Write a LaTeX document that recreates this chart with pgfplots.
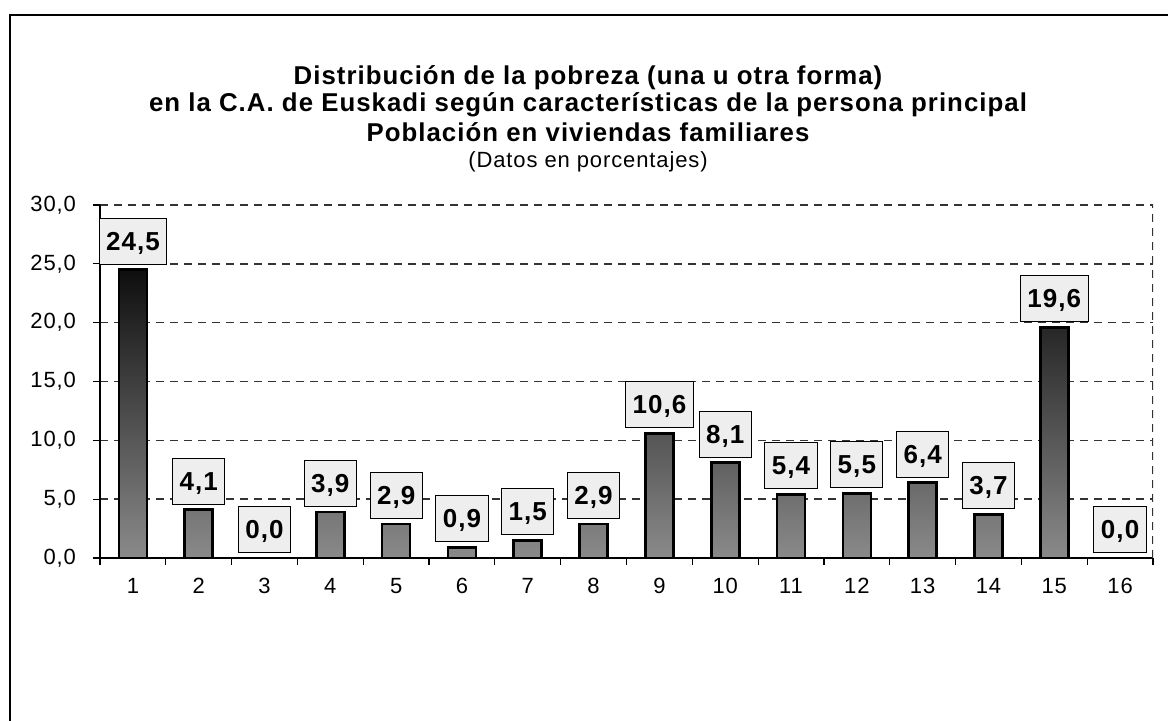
\documentclass[border=0pt]{standalone}
\usepackage{fontspec}
\setmainfont{Liberation Sans}[LetterSpace=4]
\usepackage{pgfplots}
\pgfplotsset{compat=1.18}
\definecolor{bartop}{HTML}{0E0E0E}
\definecolor{barbot}{HTML}{8A8A8A}
\definecolor{boxfill}{HTML}{EEEEEE}
\definecolor{gridc}{HTML}{333333}
\begin{document}
\begin{tikzpicture}[x=1pt,y=1pt]
\useasboundingbox (0,0) rectangle (584,360);
\fill[white] (0,0) rectangle (584,360);
\draw[line width=1pt] (5,-2) -- (5,352.5) -- (590,352.5);
\node[font=\bfseries\fontsize{12.9}{14}\selectfont] at (294,321.3) {Distribución de la pobreza (una u otra forma)};
\node[font=\bfseries\fontsize{12.9}{14}\selectfont] at (294,307.4) {en la C.A. de Euskadi según características de la persona principal};
\node[font=\bfseries\fontsize{12.9}{14}\selectfont] at (294,293.7) {Población en viviendas familiares};
\node[font=\fontsize{11}{14}\selectfont] at (294,279) {(Datos en porcentajes)};
\begin{axis}[
  at={(50pt,81pt)}, anchor=south west,
  scale only axis, width=526.5pt, height=176.5pt,
  xmin=0.5, xmax=16.5, ymin=0, ymax=30,
  axis x line*=bottom, axis y line*=left,
  axis line style={-, line width=0.6pt, black},
  /pgf/number format/assume math mode=true,
  ytick={0,5,10,15,20,25,30},
  yticklabel style={xshift=-5pt, /pgf/number format/.cd, fixed, fixed zerofill, precision=1, use comma},
  ymajorgrids,
  grid style={dash pattern=on 4pt off 3pt, gridc, line width=0.7pt},
  xtick={1,2,3,4,5,6,7,8,9,10,11,12,13,14,15,16},
  xticklabels={1,2,3,4,5,6,7,8,9,10,11,12,13,14,15,16},
  minor xtick={0.5,1.5,2.5,3.5,4.5,5.5,6.5,7.5,8.5,9.5,10.5,11.5,12.5,13.5,14.5,15.5,16.5},
  xticklabel style={yshift=-3pt},
  major x tick style={draw=none},
  tick align=outside, major tick length=3.5pt, minor tick length=3.5pt,
  tick style={black, line width=0.6pt},
  ticklabel style={font=\fontsize{11}{12}\selectfont, text=black},
]
\addplot[ybar, bar width=14pt, bar shift=0pt, draw=black, line width=1.3pt,
  top color=bartop, bottom color=barbot]
  coordinates {(1,24.5)(2,4.1)(4,3.9)(5,2.9)(6,0.9)(7,1.5)(8,2.9)(9,10.6)(10,8.1)(11,5.4)(12,5.5)(13,6.4)(14,3.7)(15,19.6)};
\addplot[ybar, bar width=14pt, bar shift=0pt, draw=none, fill=none,
  nodes near coords={\pgfmathprintnumber[fixed,fixed zerofill,precision=1,use comma]{\pgfplotspointmeta}},
  nodes near coords style={anchor=south, yshift=2.5pt, draw=black, line width=0.5pt, fill=boxfill,
    inner xsep=3.5pt, inner ysep=7pt, text height=9pt, text depth=0pt, text=black,
    font=\bfseries\fontsize{13}{14}\selectfont}]
  coordinates {(1,24.5)(2,4.1)(3,0)(4,3.9)(5,2.9)(6,0.9)(7,1.5)(8,2.9)(9,10.6)(10,8.1)(11,5.4)(12,5.5)(13,6.4)(14,3.7)(15,19.6)(16,0)};
\draw[dash pattern=on 4pt off 3pt, gridc, line width=0.7pt] (rel axis cs:1,0) -- (rel axis cs:1,1);
\end{axis}
\end{tikzpicture}
\end{document}
